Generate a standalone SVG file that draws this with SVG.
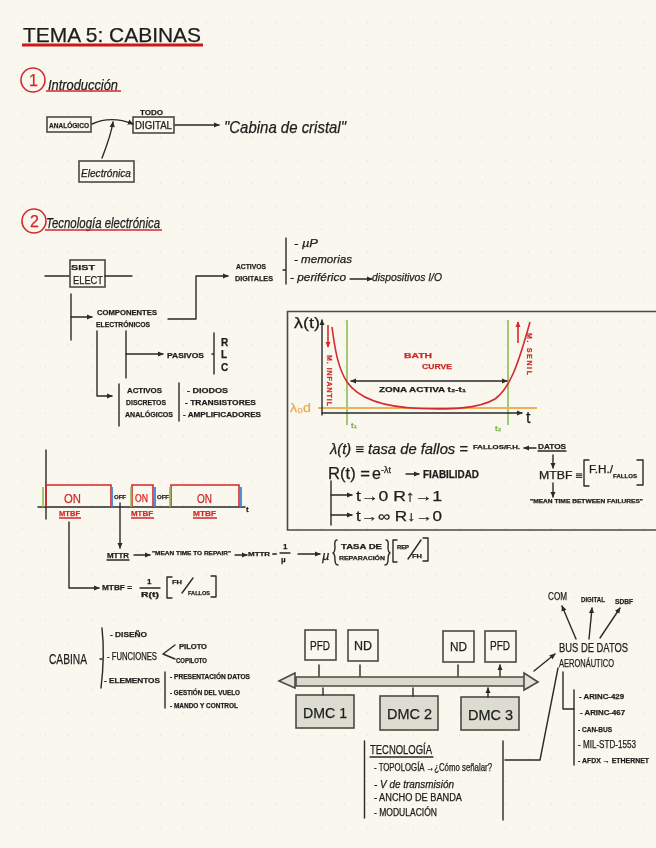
<svg xmlns="http://www.w3.org/2000/svg" width="656" height="848" viewBox="0 0 656 848">
<style>
text{font-family:"Liberation Sans",Arial,sans-serif;fill:#1d1d1b;stroke:#1d1d1b;stroke-width:.25}
.c{font-style:italic;font-size:11px}
.s{font-size:8px;font-weight:bold}
.m{font-size:10px}
.f{font-size:14px;font-style:italic}
.r{fill:#cf2a2a;stroke:#cf2a2a}
.l{fill:none;stroke:#2a2a28;stroke-width:1.4;stroke-linecap:round;stroke-linejoin:round}
.b{fill:none;stroke:#4a4a46;stroke-width:1.6}
.a{marker-end:url(#ah)}
.red{fill:none;stroke:#d32a2e;stroke-width:1.6}
.grn{fill:none;stroke:#8dbf57;stroke-width:1.6}
.blu{fill:none;stroke:#3f86d8;stroke-width:1.8}
.dmc{fill:#dcdcd0;stroke:#4a4a46;stroke-width:1.6}
</style>
<defs>
<pattern id="dots" width="23" height="23" patternUnits="userSpaceOnUse"><circle cx="22.5" cy="22.5" r="0.9" fill="#e7e5d8"/></pattern>
<marker id="ah" viewBox="0 0 8 8" refX="7" refY="4" markerWidth="6" markerHeight="6" markerUnits="userSpaceOnUse" orient="auto-start-reverse"><path d="M0 0.5L8 4L0 7.5z" fill="#2a2a28"/></marker>
<marker id="ar" viewBox="0 0 8 8" refX="7" refY="4" markerWidth="6" markerHeight="6" markerUnits="userSpaceOnUse" orient="auto"><path d="M0 0.5L8 4L0 7.5z" fill="#d32a2e"/></marker>
<filter id="soft" x="-2%" y="-2%" width="104%" height="104%"><feGaussianBlur stdDeviation="0.35"/></filter>
</defs>
<rect width="656" height="848" fill="#f9f7ee"/>
<rect width="656" height="848" fill="url(#dots)"/>
<g filter="url(#soft)">
<g id="title">
<text x="23" y="42" font-size="21" textLength="178" lengthAdjust="spacingAndGlyphs">TEMA 5: CABINAS</text>
<path d="M22 45H203" fill="none" stroke="#d0161c" stroke-width="3"/>
</g>
<g id="section-1">
<circle cx="33" cy="80" r="12" class="red"/>
<text x="29" y="86" font-size="16" class="r">1</text>
<text x="48" y="90" font-size="14" font-style="italic" textLength="70" lengthAdjust="spacingAndGlyphs">Introducción</text>
<path d="M46 91H121" class="red" stroke-width="1.2"/>
</g>
<g id="analogico"><rect x="47" y="117" width="44" height="15" class="b"/><text x="49" y="128" class="s" textLength="40" lengthAdjust="spacingAndGlyphs">ANALÓGICO</text></g>
<g id="digital"><rect x="133" y="117" width="41" height="16" class="b"/><text x="140" y="115" class="s" textLength="23" lengthAdjust="spacingAndGlyphs">TODO</text><text x="135" y="129" class="m" textLength="37" lengthAdjust="spacingAndGlyphs">DIGITAL</text></g>
<g id="electronica"><rect x="79" y="161" width="55" height="21" class="b"/><text x="81" y="177" class="c" textLength="50" lengthAdjust="spacingAndGlyphs">Electrónica</text></g>
<g id="cabina-cristal"><text x="224" y="133" font-size="17" font-style="italic" textLength="122" lengthAdjust="spacingAndGlyphs">"Cabina de cristal"</text></g>
<g id="section-2">
<circle cx="34" cy="221" r="12" class="red"/>
<text x="30" y="227" font-size="16" class="r">2</text>
<text x="46" y="228" font-size="14" font-style="italic" textLength="114" lengthAdjust="spacingAndGlyphs">Tecnología electrónica</text>
<path d="M45 230H162" class="red"/>
</g>
<g id="sist-elect"><rect x="70" y="260" width="35" height="27" class="b"/><text x="71" y="270" class="s" textLength="24" lengthAdjust="spacingAndGlyphs">SIST</text><text x="73" y="284" class="m" textLength="30" lengthAdjust="spacingAndGlyphs">ELECT</text></g>
<g id="componentes"><text x="97" y="315" class="s" textLength="60" lengthAdjust="spacingAndGlyphs">COMPONENTES</text><text x="96" y="327" class="s" textLength="54" lengthAdjust="spacingAndGlyphs">ELECTRÓNICOS</text></g>
<g id="activos-digitales"><text x="236" y="269" class="s" textLength="30" lengthAdjust="spacingAndGlyphs">ACTIVOS</text><text x="235" y="281" class="s" textLength="38" lengthAdjust="spacingAndGlyphs">DIGITALES</text>
<text x="294" y="247" class="c" textLength="24" lengthAdjust="spacingAndGlyphs">- µP</text><text x="294" y="263" class="c" textLength="58" lengthAdjust="spacingAndGlyphs">- memorias</text><text x="290" y="281" class="c" textLength="56" lengthAdjust="spacingAndGlyphs">- periférico</text><text x="372" y="281" class="c" textLength="70" lengthAdjust="spacingAndGlyphs">dispositivos I/O</text></g>
<g id="pasivos"><text x="167" y="358" class="s" textLength="37" lengthAdjust="spacingAndGlyphs">PASIVOS</text><text x="221" y="346" class="m" font-weight="bold">R</text><text x="221" y="358" class="m" font-weight="bold">L</text><text x="221" y="371" class="m" font-weight="bold">C</text></g>
<g id="activos-discretos"><text x="127" y="393" class="s" textLength="35" lengthAdjust="spacingAndGlyphs">ACTIVOS</text><text x="126" y="405" class="s" textLength="40" lengthAdjust="spacingAndGlyphs">DISCRETOS</text><text x="125" y="417" class="s" textLength="48" lengthAdjust="spacingAndGlyphs">ANALÓGICOS</text>
<text x="187" y="393" class="s" textLength="41" lengthAdjust="spacingAndGlyphs">- DIODOS</text><text x="185" y="405" class="s" textLength="71" lengthAdjust="spacingAndGlyphs">- TRANSISTORES</text><text x="183" y="417" class="s" textLength="78" lengthAdjust="spacingAndGlyphs">- AMPLIFICADORES</text></g>
<g id="bath-curve">
<path d="M656 311.500H287.500V530H656" class="b" stroke-width="1.8"/>
<text x="294" y="328" font-size="15" textLength="26" lengthAdjust="spacingAndGlyphs">λ(t)</text>
<path d="M347 320V425M508 320V425" class="grn"/>
<path d="M318 408H537" fill="none" stroke="#eeb05a" stroke-width="1.8"/>
<path d="M322 415V320" class="l a"/><path d="M322 413H522" class="l a"/>
<path d="M332 327C335 350 338 368 347 382C358 398 380 407 420 408.500C450 409.500 478 409 495 399C510 388 518 365 530 322" class="red"/>
<text x="290" y="412" font-size="12" style="fill:#eda94e;stroke:#eda94e" textLength="21" lengthAdjust="spacingAndGlyphs">λ₀d</text>
<text x="526" y="423" font-size="16">t</text>
<text x="351" y="428" class="s" style="fill:#7fb04b;stroke:#7fb04b">t₁</text><text x="495" y="431" class="s" style="fill:#7fb04b;stroke:#7fb04b">t₂</text>
<path d="M328 325V347" class="red" stroke-width="1.2" marker-end="url(#ar)"/><path d="M518 343V322" class="red" stroke-width="1.2" marker-end="url(#ar)"/>
<text transform="translate(327 355) rotate(90)" font-size="7" font-weight="bold" class="r" textLength="51" lengthAdjust="spacing">M. INFANTIL</text>
<text transform="translate(527 333) rotate(90)" font-size="7" font-weight="bold" class="r" textLength="42" lengthAdjust="spacing">M. SENIL</text>
<text x="404" y="358" class="s r" textLength="28" lengthAdjust="spacingAndGlyphs">BATH</text><text x="422" y="369" class="s r" textLength="30" lengthAdjust="spacingAndGlyphs">CURVE</text>
<path d="M351 381H507" class="l a" style="marker-start:url(#ah)"/>
<text x="379" y="392" class="s" textLength="87" lengthAdjust="spacingAndGlyphs">ZONA ACTIVA t₂-t₁</text>
<text x="330" y="454" class="f" textLength="138" lengthAdjust="spacingAndGlyphs">λ(t) ≡ tasa de fallos =</text>
<text x="473" y="449" font-size="6" font-weight="bold" textLength="47" lengthAdjust="spacingAndGlyphs">FALLOS/F.H.</text>
<path d="M536 448H524" class="l a"/>
<text x="538" y="449" class="s" textLength="28" lengthAdjust="spacingAndGlyphs">DATOS</text><path d="M538 451H566" class="l" stroke-width="1"/>
<path d="M553 455V468" class="l a"/>
<text x="539" y="479" class="m" textLength="44" lengthAdjust="spacingAndGlyphs">MTBF ≡</text>
<path d="M589 486H584V460H589M637 460H643V485H637" class="l"/>
<text x="589" y="473" class="m" textLength="24" lengthAdjust="spacingAndGlyphs">F.H./</text><text x="613" y="478" font-size="6" font-weight="bold" textLength="24" lengthAdjust="spacingAndGlyphs">FALLOS</text>
<path d="M553 483V497" class="l a"/>
<text x="530" y="503" font-size="5.500" font-weight="bold" textLength="113" lengthAdjust="spacingAndGlyphs">"MEAN TIME BETWEEN FAILURES"</text>
<text x="328" y="479" font-size="16" textLength="42" lengthAdjust="spacingAndGlyphs">R(t) =</text><text x="372" y="479" font-size="16">e</text><text x="381" y="473" font-size="9">-λt</text>
<path d="M406 474H419" class="l a"/>
<text x="423" y="478" class="m" font-weight="bold" textLength="56" lengthAdjust="spacingAndGlyphs">FIABILIDAD</text>
<path d="M331 481V525" class="l"/><path d="M331 495H352" class="l a"/><path d="M331 515H352" class="l a"/>
<text x="356" y="501" font-size="15" textLength="86" lengthAdjust="spacingAndGlyphs">t→0  R↑→1</text>
<text x="356" y="521" font-size="14" textLength="86" lengthAdjust="spacingAndGlyphs">t→∞  R↓→0</text>
</g>
<g id="on-off-timeline">
<path d="M46 450V519M38 507H245" class="l" stroke-width="1.6"/>
<path d="M46 507V485H111V507M132 507V485H153V507M171 507V485H239V507" class="red"/>
<path d="M43 487V507M131 487V507M170 487V507" class="grn"/>
<path d="M112 487V507M155 487V507M241 487V507" class="blu"/>
<text x="64" y="503" font-size="13" class="r" textLength="17" lengthAdjust="spacingAndGlyphs">ON</text><text x="135" y="502" class="m r" textLength="13" lengthAdjust="spacingAndGlyphs">ON</text><text x="197" y="503" font-size="12" class="r" textLength="15" lengthAdjust="spacingAndGlyphs">ON</text>
<text x="114" y="499" font-size="6" font-weight="bold" textLength="12" lengthAdjust="spacingAndGlyphs">OFF</text><text x="157" y="499" font-size="6" font-weight="bold" textLength="12" lengthAdjust="spacingAndGlyphs">OFF</text>
<text x="246" y="512" class="s">t</text>
<text x="59" y="516" class="s r" textLength="21" lengthAdjust="spacingAndGlyphs">MTBF</text><text x="131" y="516" class="s r" textLength="22" lengthAdjust="spacingAndGlyphs">MTBF</text><text x="193" y="516" class="s r" textLength="23" lengthAdjust="spacingAndGlyphs">MTBF</text>
<path d="M59 518H81M131 518H154M193 518H217" class="red" stroke-width="1"/>
</g>
<g id="mttr">
<text x="107" y="558" class="s" textLength="22" lengthAdjust="spacingAndGlyphs">MTTR</text><path d="M107 560H129" class="l" stroke-width="1"/>
<text x="152" y="555" font-size="6" font-weight="bold" textLength="79" lengthAdjust="spacingAndGlyphs">"MEAN TIME TO REPAIR"</text>
<text x="248" y="556" font-size="6" font-weight="bold" textLength="29" lengthAdjust="spacingAndGlyphs">MTTR =</text>
<text x="283" y="549" class="s">1</text><path d="M280 553H290" class="l" stroke-width="1"/><text x="281" y="562" class="s">µ</text>
<text x="322" y="560" font-size="13" font-style="italic">µ</text>
<path d="M337 540Q334 540 335 547Q335 552 333 553Q335 554 335 560Q335 565 338 565" class="l" stroke-width="1"/>
<text x="341" y="549" font-size="7" font-weight="bold" textLength="41" lengthAdjust="spacingAndGlyphs">TASA DE</text><text x="339" y="560" font-size="6" font-weight="bold" textLength="46" lengthAdjust="spacingAndGlyphs">REPARACIÓN</text>
<path d="M386 540Q389 540 388 547Q388 552 390 553Q388 554 388 560Q388 565 385 565" class="l" stroke-width="1"/>
<path d="M397 562H393V540H397M423 538H428V561H423" class="l" stroke-width="1.2"/>
<text x="397" y="549" font-size="5" font-weight="bold" textLength="12" lengthAdjust="spacingAndGlyphs">REP</text><text x="412" y="558" font-size="6" font-weight="bold" textLength="10" lengthAdjust="spacingAndGlyphs">FH</text><path d="M408 559L421 540" class="l" stroke-width="1"/>
</g>
<g id="mtbf">
<text x="102" y="590" class="s" textLength="30" lengthAdjust="spacingAndGlyphs">MTBF =</text>
<text x="147" y="584" class="s">1</text><path d="M140 588H160" class="l" stroke-width="1"/><text x="141" y="597" font-size="7" font-weight="bold" textLength="18" lengthAdjust="spacingAndGlyphs">R(t)</text>
<path d="M172 598H167V577H172M211 576H216V597H211" class="l" stroke-width="1.2"/>
<text x="172" y="584" font-size="6" font-weight="bold" textLength="10" lengthAdjust="spacingAndGlyphs">FH</text><text x="188" y="595" font-size="6" font-weight="bold" textLength="22" lengthAdjust="spacingAndGlyphs">FALLOS</text><path d="M182 593L193 578" class="l" stroke-width="1"/>
</g>
<g id="cabina">
<text x="49" y="664" font-size="15" textLength="38" lengthAdjust="spacingAndGlyphs">CABINA</text>
<path d="M102 628Q105 655 101 688" class="l" stroke-width="1.5"/><path d="M100 659H102" class="l"/>
<text x="110" y="637" class="s" textLength="37" lengthAdjust="spacingAndGlyphs">- DISEÑO</text>
<text x="107" y="660" class="m" textLength="50" lengthAdjust="spacingAndGlyphs">- FUNCIONES</text>
<path d="M175 645L163 654L175 659" class="l"/>
<text x="179" y="649" font-size="7" font-weight="bold" textLength="28" lengthAdjust="spacingAndGlyphs">PILOTO</text><text x="176" y="663" font-size="6.500" font-weight="bold" textLength="31" lengthAdjust="spacingAndGlyphs">COPILOTO</text>
<text x="104" y="683" class="s" textLength="56" lengthAdjust="spacingAndGlyphs">- ELEMENTOS</text>
<path d="M165 672V708" class="l" stroke-width="1.6"/>
<text x="170" y="679" font-size="6.500" font-weight="bold" textLength="80" lengthAdjust="spacingAndGlyphs">- PRESENTACIÓN DATOS</text>
<text x="170" y="695" font-size="6.500" font-weight="bold" textLength="70" lengthAdjust="spacingAndGlyphs">- GESTIÓN DEL VUELO</text>
<text x="170" y="708" font-size="6.500" font-weight="bold" textLength="68" lengthAdjust="spacingAndGlyphs">- MANDO Y CONTROL</text>
</g>
<g id="pfd-1"><rect x="305" y="630" width="31" height="30" class="b"/><text x="310" y="650" font-size="12" textLength="20" lengthAdjust="spacingAndGlyphs">PFD</text></g>
<g id="nd-1"><rect x="348" y="630" width="30" height="31" class="b"/><text x="354" y="650" font-size="12" textLength="18" lengthAdjust="spacingAndGlyphs">ND</text></g>
<g id="nd-2"><rect x="443" y="631" width="31" height="31" class="b"/><text x="450" y="651" font-size="12" textLength="17" lengthAdjust="spacingAndGlyphs">ND</text></g>
<g id="pfd-2"><rect x="485" y="631" width="31" height="31" class="b"/><text x="490" y="650" font-size="12" textLength="20" lengthAdjust="spacingAndGlyphs">PFD</text></g>
<g id="bus"><path d="M296 677H525V686H296z" fill="#d9d9cc" stroke="#4a4a46" stroke-width="1.6"/><path d="M295 673L279 681L295 688zM524 673L538 682L524 690z" fill="#e3e3d8" stroke="#4a4a46" stroke-width="1.6"/></g>
<g id="dmc-1"><rect x="296" y="695" width="58" height="33" class="dmc"/><text x="303" y="718" font-size="15" textLength="44" lengthAdjust="spacingAndGlyphs">DMC 1</text></g>
<g id="dmc-2"><rect x="380" y="696" width="58" height="34" class="dmc"/><text x="387" y="719" font-size="15" textLength="45" lengthAdjust="spacingAndGlyphs">DMC 2</text></g>
<g id="dmc-3"><rect x="461" y="697" width="58" height="33" class="dmc"/><text x="468" y="720" font-size="15" textLength="45" lengthAdjust="spacingAndGlyphs">DMC 3</text></g>
<g id="tecnologia">
<text x="370" y="754" font-size="12" textLength="62" lengthAdjust="spacingAndGlyphs">TECNOLOGÍA</text><path d="M370 757H433" class="l" stroke-width="1"/>
<text x="374" y="771" class="m" textLength="118" lengthAdjust="spacingAndGlyphs">- TOPOLOGÍA →¿Cómo señalar?</text>
<text x="374" y="788" class="m" font-style="italic" textLength="80" lengthAdjust="spacingAndGlyphs">- V de transmisión</text>
<text x="374" y="801" class="m" textLength="88" lengthAdjust="spacingAndGlyphs">- ANCHO DE BANDA</text>
<text x="374" y="816" class="m" textLength="63" lengthAdjust="spacingAndGlyphs">- MODULACIÓN</text>
</g>
<g id="bus-datos">
<text x="548" y="600" class="m" textLength="19" lengthAdjust="spacingAndGlyphs">COM</text><text x="581" y="602" class="s" textLength="24" lengthAdjust="spacingAndGlyphs">DIGITAL</text><text x="615" y="604" class="s" textLength="18" lengthAdjust="spacingAndGlyphs">SDBF</text>
<text x="559" y="652" font-size="12" textLength="69" lengthAdjust="spacingAndGlyphs">BUS DE DATOS</text>
<text x="559" y="667" font-size="11" textLength="55" lengthAdjust="spacingAndGlyphs">AERONÁUTICO</text>
<text x="579" y="699" class="s" textLength="45" lengthAdjust="spacingAndGlyphs">- ARINC-429</text>
<text x="580" y="715" class="s" textLength="45" lengthAdjust="spacingAndGlyphs">- ARINC-467</text>
<text x="578" y="732" class="s" textLength="34" lengthAdjust="spacingAndGlyphs">- CAN-BUS</text>
<text x="578" y="748" class="m" textLength="58" lengthAdjust="spacingAndGlyphs">- MIL-STD-1553</text>
<text x="578" y="763" font-size="7" font-weight="bold" textLength="71" lengthAdjust="spacingAndGlyphs">- AFDX → ETHERNET</text>
</g>
<g id="connectors">
<path d="M92 124C105 118 118 118 133 124" class="l a"/>
<path d="M102 158C107 145 111 135 113 122" class="l a"/>
<path d="M175 125H219" class="l a"/>
<path d="M45 276H69M105 276H132" class="l"/>
<path d="M71 294V340" class="l"/><path d="M71 317H92" class="l a"/>
<path d="M168 319H196V276H228" class="l a"/>
<path d="M286 238V284M283 270H285" class="l" stroke-width="1.5"/>
<path d="M350 279H372" class="l a"/>
<path d="M126 331V378" class="l" stroke-width="1.5"/><path d="M126 354H163" class="l a"/>
<path d="M214 333V374M212 354H214" class="l" stroke-width="1.5"/>
<path d="M97 331V396H112" class="l a"/>
<path d="M119 384V426M179 383V421" class="l" stroke-width="1.5"/>
<path d="M120 503V548" class="l a"/>
<path d="M134 555H150" class="l a"/><path d="M235 555H247" class="l a"/><path d="M298 554H320" class="l a"/>
<path d="M69 522V588H99" class="l a"/>
<path d="M319 676V665M360 676V665M458 676V665M500 676V665" class="l a"/>
<path d="M323 695V688M413 696V688M488 697V688" class="l a"/>
<path d="M364.500 741V818M503 741V820" class="l" stroke-width="1.6"/>
<path d="M505 760H540L558 668" class="l"/>
<path d="M534 671L555 654" class="l a"/>
<path d="M576 639L562 606" class="l a"/><path d="M589 639L592 608" class="l a"/><path d="M600 638L620 608" class="l a"/>
<path d="M563 672V709H574" class="l" stroke-width="1.6"/><path d="M574 690V765" class="l" stroke-width="1.6"/>
</g>
</g>
</svg>
